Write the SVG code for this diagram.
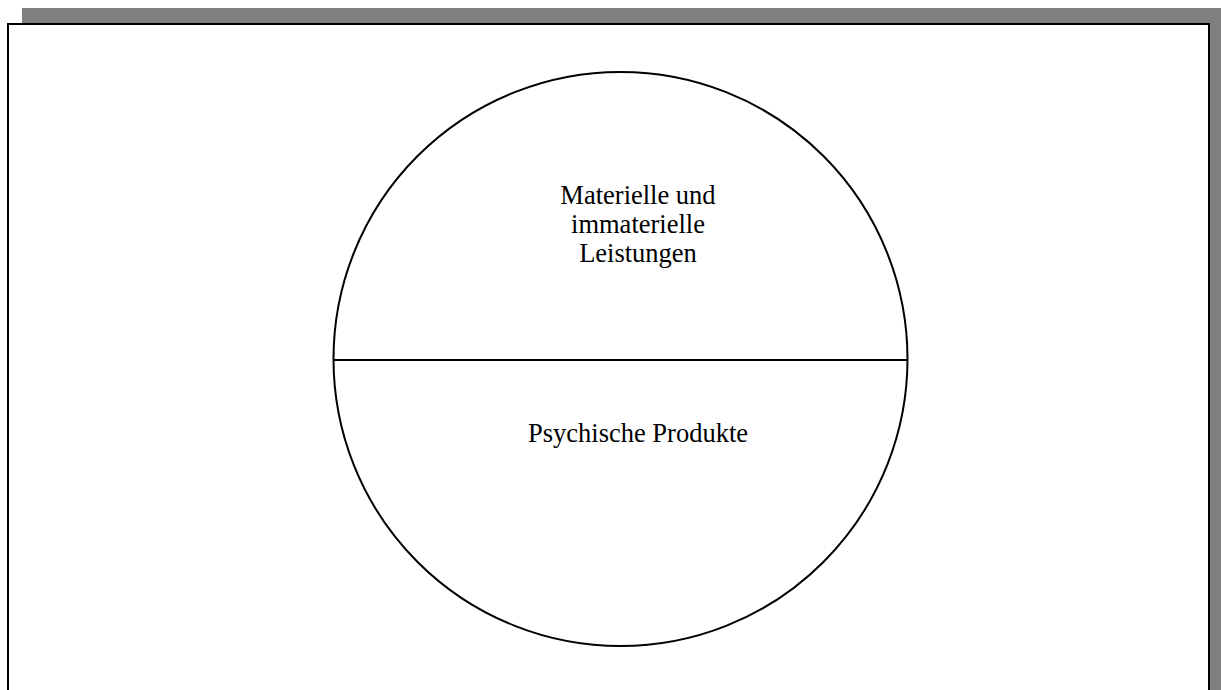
<svg xmlns="http://www.w3.org/2000/svg" width="1221" height="690" viewBox="0 0 1221 690">
<style>
.lbl{font-family:"Liberation Serif","Times New Roman",serif;font-size:26.5px;fill:#000;text-anchor:middle}
.ln{fill:none;stroke:#000;stroke-width:2}
</style>
<rect x="0" y="0" width="1221" height="690" fill="#fff"/>
<rect x="22" y="8" width="1220" height="700" fill="#808080"/>
<rect x="8" y="24" width="1201" height="700" fill="#fff" stroke="#000" stroke-width="2"/>
<g id="circle">
<circle cx="620.5" cy="359" r="287" class="ln"/>
</g>
<g id="connectors">
<line x1="333.5" y1="360" x2="907.5" y2="360" class="ln"/>
</g>
<g id="top-half">
<text class="lbl" x="638" y="204">Materielle und</text>
<text class="lbl" x="638" y="233">immaterielle</text>
<text class="lbl" x="638" y="262">Leistungen</text>
</g>
<g id="bottom-half">
<text class="lbl" x="638" y="442">Psychische Produkte</text>
</g>
</svg>
